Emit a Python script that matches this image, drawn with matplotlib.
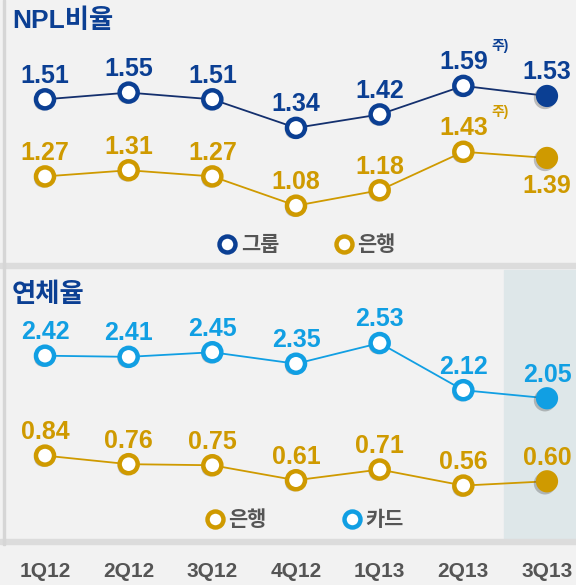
import matplotlib
matplotlib.use("Agg")
import matplotlib.pyplot as plt
import matplotlib.patheffects as pe
from matplotlib.lines import Line2D

plt.rcParams['font.family'] = ['Liberation Sans', 'Noto Sans CJK KR']
plt.rcParams['font.weight'] = 'bold'

quarters = ['1Q12', '2Q12', '3Q12', '4Q12', '1Q13', '2Q13', '3Q13']
npl_group = [1.51, 1.55, 1.51, 1.34, 1.42, 1.59, 1.53]
npl_bank = [1.27, 1.31, 1.27, 1.08, 1.18, 1.43, 1.39]
delinq_card = [2.42, 2.41, 2.45, 2.35, 2.53, 2.12, 2.05]
delinq_bank = [0.84, 0.76, 0.75, 0.61, 0.71, 0.56, 0.60]

BLUE = '#0b3f93'
BLUE_LINE = '#14306e'
GOLD = '#cf9a00'
CYAN = '#119fe3'
BG = '#f2f2f2'

W, H = 576, 585
fig = plt.figure(figsize=(W / 100, H / 100), dpi=100)
fig.patch.set_facecolor(BG)

# decoration layer in pixel coordinates
deco = fig.add_axes([0, 0, 1, 1])
deco.set_xlim(0, W)
deco.set_ylim(H, 0)
deco.axis('off')
deco.add_patch(plt.Rectangle((504, 270), 72, 270, color='#dee7e9', zorder=0))
deco.add_patch(plt.Rectangle((0, 263), W, 5, color='#dcdcdc', zorder=1))
deco.add_patch(plt.Rectangle((0, 539), W, 5, color='#dcdcdc', zorder=1))
deco.add_patch(plt.Rectangle((3, 0), 2, 545, color='#d6d6d6', zorder=1))
deco.text(12, 21, 'NPL비율', color=BLUE, fontsize=19, va='center', ha='left')
deco.text(12, 295, '연체율', color=BLUE, fontsize=19, va='center', ha='left')

x = list(range(len(quarters)))
xlim = (-45 / 83.67, 6 + (W - 547) / 83.67)


def series_axes(a, b):
    # pixel row y = a - b * value
    ax = fig.add_axes([0, 0, 1, 1])
    ax.patch.set_alpha(0)
    ax.axis('off')
    ax.set_xlim(*xlim)
    ax.set_ylim((a - H) / b, a / b)
    return ax


shadow = [pe.SimplePatchShadow(offset=(-1.5, -1.5), shadow_rgbFace='#555555', alpha=0.35), pe.Normal()]


def draw(ax, vals, line_c, mark_c, label_c, below=(), notes=()):
    ax.plot(x, vals, color=line_c, lw=1.3, zorder=2)
    ax.plot(x[:-1], vals[:-1], 'o', ms=13, mfc='white', mec=mark_c, mew=3.2,
            zorder=3, path_effects=shadow)
    ax.plot(x[-1:], vals[-1:], 'o', ms=16, mfc=mark_c, mec=mark_c, mew=0,
            zorder=3, path_effects=shadow)
    for i, v in enumerate(vals):
        dy = -25 if i in below else 12
        ax.annotate(f'{v:.2f}', (i, v), xytext=(0, dy), textcoords='offset points',
                    ha='center', va='baseline', color=label_c, fontsize=18)
        if i in notes:
            ax.annotate('주)', (i, v), xytext=(20, 26), textcoords='offset points',
                        ha='left', va='baseline', color=label_c, fontsize=10)


ax1 = series_axes(353, 168)
draw(ax1, npl_group, BLUE_LINE, BLUE, BLUE, notes=(5,))
ax2 = series_axes(372, 154)
draw(ax2, npl_bank, GOLD, GOLD, GOLD, below=(6,), notes=(5,))
ax3 = series_axes(634, 115)
draw(ax3, delinq_card, CYAN, CYAN, CYAN)
ax4 = series_axes(545.5, 107)
draw(ax4, delinq_bank, GOLD, GOLD, GOLD)

for i, q in enumerate(quarters):
    ax4.annotate(q, (i, 0), xycoords=('data', 'figure fraction'), xytext=(0, 9.5),
                 textcoords='offset points', ha='center', va='center',
                 color='#555555', fontsize=15)


def handle(c):
    return Line2D([], [], ls='none', marker='o', ms=11.5, mfc='white', mec=c, mew=3.2)


leg_kw = dict(ncol=2, frameon=False, handletextpad=0.15,
              prop={'size': 15, 'weight': 'bold'}, labelcolor='#555555',
              loc='center', handlelength=1.0)
l1 = deco.legend([handle(BLUE), handle(GOLD)], ['그룹', '은행'], columnspacing=2.6,
                 bbox_to_anchor=(306 / W, 1 - 245 / H), bbox_transform=fig.transFigure, **leg_kw)
deco.add_artist(l1)
deco.legend([handle(GOLD), handle(CYAN)], ['은행', '카드'], columnspacing=3.6,
            bbox_to_anchor=(304 / W, 1 - 520 / H), bbox_transform=fig.transFigure, **leg_kw)

fig.savefig('out.png', dpi=100, facecolor=BG)
